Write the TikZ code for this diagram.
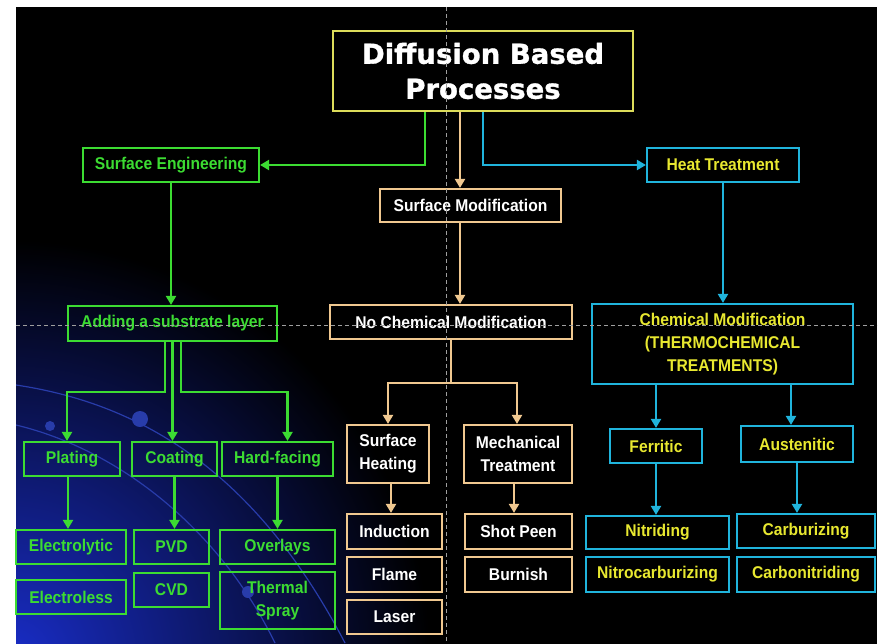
\documentclass[tikz,border=0pt]{standalone}
\usepackage{fontspec}
\setmainfont{Liberation Sans}
\newfontfamily\narrowfont[FakeStretch=0.92]{Liberation Sans}
\newfontfamily\titlefont[BoldFeatures={FakeBold=1.2}]{DejaVu Sans}
\usetikzlibrary{arrows.meta}
\definecolor{gline}{HTML}{3CDC32}
\definecolor{tline}{HTML}{F0C890}
\definecolor{bline}{HTML}{20B4DC}
\definecolor{ytext}{HTML}{E8E830}
\definecolor{tborder}{HTML}{DCDC5A}
\definecolor{swoosh}{RGB}{40,60,170}
\begin{document}
\begin{tikzpicture}[x=1pt,y=-1pt,
    box/.style={draw,line width=2.2pt,inner sep=0pt,align=center,
        font=\narrowfont\bfseries\fontsize{17}{23}\selectfont},
    gbox/.style={box,draw=gline,text=gline},
    tbox/.style={box,draw=tline,text=white},
    bbox/.style={box,draw=bline,text=ytext},
    gto/.style={draw=gline,line width=2.4pt,-{Triangle[length=9pt,width=10pt]}},
    tto/.style={draw=tline,line width=2.4pt,-{Triangle[length=9pt,width=10pt]}},
    bto/.style={draw=bline,line width=2.4pt,-{Triangle[length=9pt,width=10pt]}},
    guide/.style={gray!75,line width=0.8pt,dash pattern=on 4pt off 3pt}]
    \useasboundingbox (0,0) rectangle (880,643);
    \fill[white] (0,0) rectangle (880,643);
    \fill[black] (16,7) rectangle (877,646);
    \begin{scope}
        \clip (16,7) rectangle (877,646);
        \shade[inner color={rgb,255:red,25;green,45;blue,200},outer color=black] (10,660) circle (420);
        \draw[swoosh,line width=1.2pt] (16,385) .. controls (150,405) and (260,480) .. (345,643);
        \draw[swoosh,line width=1.2pt] (16,425) .. controls (120,450) and (220,530) .. (275,643);
        \fill[swoosh] (50,426) circle (5);
        \fill[swoosh] (140,419) circle (8);
        \fill[swoosh] (248,592) circle (6);
    \end{scope}

    \node[draw=tborder,line width=2.2pt,minimum width=300pt,minimum height=80pt,align=center,text=white,
        font=\titlefont\bfseries\fontsize{27.5}{35}\selectfont](DBP) at (483,71) {Diffusion Based\\Processes};

    \node[gbox,minimum width=176pt,minimum height=34pt](SE) at (171,165) {Surface Engineering};
    \node[tbox,minimum width=181pt,minimum height=33pt](SM) at (470.5,205.5) {Surface Modification};
    \node[bbox,minimum width=152pt,minimum height=34pt](HT) at (723,165) {Heat Treatment};

    \node[gbox,minimum width=209pt,minimum height=35pt](ASL) at (172.5,323.5) {Adding a substrate layer};
    \node[tbox,minimum width=242pt,minimum height=34pt](NCM) at (451,322) {No Chemical Modification};
    \node[bbox,minimum width=261pt,minimum height=80pt](CM) at (722.5,344) {Chemical Modification\\(THERMOCHEMICAL\\TREATMENTS)};

    \node[gbox,minimum width=96pt,minimum height=34pt](PL) at (72,459) {Plating};
    \node[gbox,minimum width=85pt,minimum height=34pt](CO) at (174.5,459) {Coating};
    \node[gbox,minimum width=111pt,minimum height=34pt](HF) at (277.5,459) {Hard-facing};
    \node[tbox,minimum width=82pt,minimum height=58pt](SH) at (388,454) {Surface\\Heating};
    \node[tbox,minimum width=108pt,minimum height=58pt](MT) at (518,454) {Mechanical\\Treatment};
    \node[bbox,minimum width=92pt,minimum height=34pt](FE) at (656,446) {Ferritic};
    \node[bbox,minimum width=112pt,minimum height=36pt](AU) at (797,444) {Austenitic};

    \node[gbox,minimum width=110pt,minimum height=34pt](EL) at (71,547) {Electrolytic};
    \node[gbox,minimum width=110pt,minimum height=34pt](ELS) at (71,597) {Electroless};
    \node[gbox,minimum width=75pt,minimum height=34pt](PVD) at (171.5,547) {PVD};
    \node[gbox,minimum width=75pt,minimum height=34pt](CVD) at (171.5,590) {CVD};
    \node[gbox,minimum width=115pt,minimum height=34pt](OV) at (277.5,547) {Overlays};
    \node[gbox,minimum width=115pt,minimum height=57pt](TS) at (277.5,600.5) {Thermal\\Spray};
    \node[tbox,minimum width=95pt,minimum height=35pt](IN) at (394.5,531.5) {Induction};
    \node[tbox,minimum width=95pt,minimum height=35pt](FL) at (394.5,574.5) {Flame};
    \node[tbox,minimum width=95pt,minimum height=34pt](LA) at (394.5,617) {Laser};
    \node[tbox,minimum width=107pt,minimum height=35pt](SP) at (518.5,531.5) {Shot Peen};
    \node[tbox,minimum width=107pt,minimum height=35pt](BU) at (518.5,574.5) {Burnish};
    \node[bbox,minimum width=143pt,minimum height=33pt](NI) at (657.5,532.5) {Nitriding};
    \node[bbox,minimum width=143pt,minimum height=35pt](NC) at (657.5,574.5) {Nitrocarburizing};
    \node[bbox,minimum width=138pt,minimum height=34pt](CA) at (806,531) {Carburizing};
    \node[bbox,minimum width=138pt,minimum height=35pt](CN) at (806,574.5) {Carbonitriding};

    \draw[gto] ([xshift=-58pt]DBP.south) |- (SE.east);
    \draw[tto] ([xshift=-23pt]DBP.south) -- ([xshift=-23pt]DBP.south |- SM.north);
    \draw[bto] (DBP.south) |- (HT.west);

    \draw[gto] (SE.south) -- (SE.south |- ASL.north);
    \draw[tto] ([xshift=-10.5pt]SM.south) -- ([xshift=-10.5pt]SM.south |- NCM.north);
    \draw[bto] (HT.south) -- (HT.south |- CM.north);

    \draw[gto] ([xshift=-7.5pt]ASL.south) -- ++(0,50) -| ([xshift=-5pt]PL.north);
    \draw[gto] (ASL.south) -- (ASL.south |- CO.north);
    \draw[gto] ([xshift=8.5pt]ASL.south) -- ++(0,50) -| ([xshift=10pt]HF.north);
    \coordinate (NS) at ([yshift=-43pt]NCM.south);
    \draw[tline,line width=2.4pt] (NCM.south) -- (NS);
    \draw[tto] (NS) -| (SH.north);
    \draw[tto] (NS) -| ([xshift=-1pt]MT.north);
    \draw[bto] (CM.south -| FE.north) -- (FE.north);
    \draw[bto] ([xshift=-6pt]AU.north |- CM.south) -- ([xshift=-6pt]AU.north);

    \draw[gto] ([xshift=-4pt]PL.south) -- ([xshift=-4pt]PL.south |- EL.north);
    \draw[gto] (CO.south) -- (CO.south |- PVD.north);
    \draw[gto] (HF.south) -- (HF.south |- OV.north);
    \draw[tto] ([xshift=3pt]SH.south) -- ([xshift=3pt]SH.south |- IN.north);
    \draw[tto] ([xshift=-4pt]MT.south) -- ([xshift=-4pt]MT.south |- SP.north);
    \draw[bto] (FE.south) -- (FE.south |- NI.north);
    \draw[bto] (AU.south) -- (AU.south |- CA.north);

    \draw[guide] (446,7) -- (446,643);
    \draw[guide] (16,325) -- (877,325);
\end{tikzpicture}
\end{document}
